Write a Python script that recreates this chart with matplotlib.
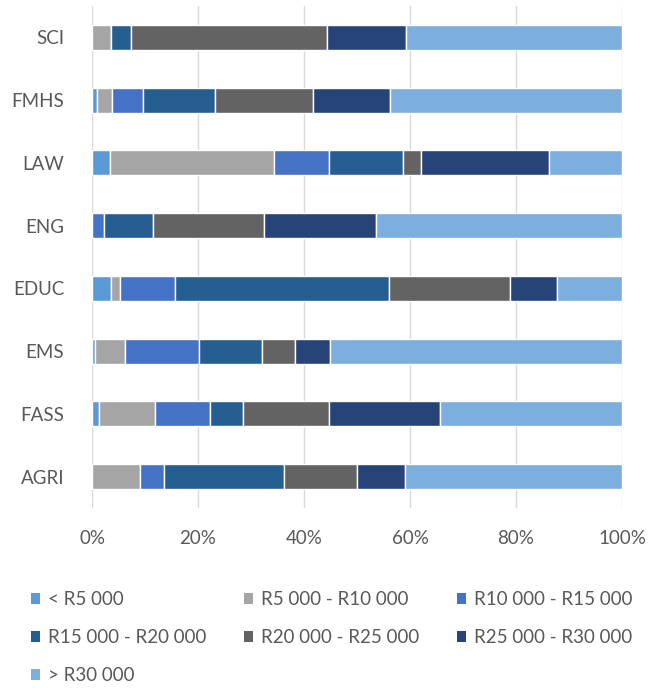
import numpy as np
import matplotlib
matplotlib.use('Agg')
import matplotlib.pyplot as plt
from matplotlib.patches import Patch

# faculties, bottom to top
faculties = ['AGRI', 'FASS', 'EMS', 'EDUC', 'ENG', 'LAW', 'FMHS', 'SCI']

income_bands = ['< R5 000', 'R5 000 - R10 000', 'R10 000 - R15 000',
                'R15 000 - R20 000', 'R20 000 - R25 000', 'R25 000 - R30 000',
                '> R30 000']

# percentage share per band, same order as faculties
lt_5k = [0.0, 1.4, 0.6, 3.5, 0.0, 3.4, 0.9, 0.0]
r5_10k = [9.0, 10.5, 5.7, 1.7, 0.0, 31.0, 2.9, 3.6]
r10_15k = [4.6, 10.4, 13.9, 10.5, 2.3, 10.4, 5.9, 0.0]
r15_20k = [22.7, 6.1, 11.8, 40.4, 9.3, 13.8, 13.6, 3.7]
r20_25k = [13.7, 16.3, 6.3, 22.8, 20.9, 3.5, 18.4, 37.1]
r25_30k = [9.1, 21.0, 6.6, 8.8, 21.0, 24.1, 14.5, 14.9]
gt_30k = [40.9, 34.3, 55.1, 12.3, 46.5, 13.8, 43.8, 40.7]

colors = ['#5B9BD5', '#A5A5A5', '#4472C4', '#255E91', '#636363', '#264478', '#7CAFDD']

series = [lt_5k, r5_10k, r10_15k, r15_20k, r20_25k, r25_30k, gt_30k]

plt.rcParams.update({
    'font.family': ['Lato', 'DejaVu Sans'],
    'font.size': 13.5,
    'text.color': '#595959',
})

fig = plt.figure(figsize=(6.62, 6.88), dpi=100)
ax = fig.add_axes([92 / 662, 1 - 508 / 688, 530 / 662, 502 / 688])

y = np.arange(len(faculties))
left = np.zeros(len(faculties))
for vals, col, lab in zip(series, colors, income_bands):
    vals = np.array(vals, dtype=float)
    ax.barh(y, vals, left=left, height=0.4, color=col, edgecolor='white',
            linewidth=1.0, label=lab, zorder=3)
    left += vals

ax.set_xlim(0, 100)
ax.set_ylim(-0.5, len(faculties) - 0.5)
ax.set_yticks(y)
ax.set_yticklabels(faculties)
ax.set_xticks(np.arange(0, 101, 20))
ax.set_xticklabels([f'{v}%' for v in range(0, 101, 20)])
ax.tick_params(axis='both', length=0, colors='#595959', labelsize=13.5)
ax.tick_params(axis='y', pad=20)
ax.tick_params(axis='x', pad=16)
ax.grid(axis='x', color='#D9D9D9', linewidth=1.0, zorder=0)
for s in ax.spines.values():
    s.set_visible(False)

# legend: three equal-width columns filled row by row, like Excel does
col_x = [31, 244, 457]
for c in range(3):
    idx = list(range(c, len(income_bands), 3))
    handles = [Patch(facecolor=colors[i], edgecolor='none') for i in idx]
    labels = [income_bands[i] for i in idx]
    fig.legend(handles, labels, loc='upper left',
               bbox_to_anchor=(col_x[c] / 662, 1 - 591 / 688), frameon=False,
               fontsize=13.5, handlelength=0.5, handleheight=0.5,
               handletextpad=0.4, labelspacing=1.12, borderpad=0,
               borderaxespad=0, labelcolor='#595959')

plt.savefig('out.png', dpi=100)
